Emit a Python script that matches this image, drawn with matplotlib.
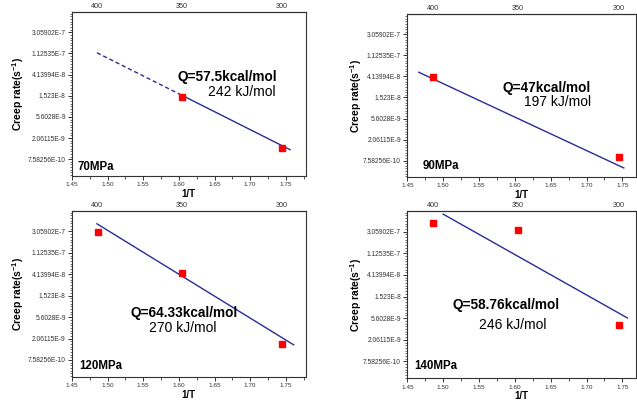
import numpy as np
import matplotlib.pyplot as plt
from matplotlib.ticker import FixedLocator, NullFormatter

plt.rcParams['font.family'] = ['Liberation Sans', 'DejaVu Sans']
plt.rcParams['mathtext.default'] = 'regular'

# y ticks (natural log scale, e^-15 ... e^-21)
ytick_vals = [3.05902e-7, 1.12535e-7, 4.13994e-8, 1.523e-8, 5.6028e-9, 2.06115e-9, 7.58256e-10]
ytick_labels = ['3.05902E-7', '1.12535E-7', '4.13994E-8', '1.523E-8',
                '5.6028E-9', '2.06115E-9', '7.58256E-10']
xtick_vals = [1.45, 1.50, 1.55, 1.60, 1.65, 1.70, 1.75]
top_temps = [400, 350, 300]  # deg C

# measured points (1/T in 1e-3 K^-1, creep rate in s^-1)
x70 = [1.605, 1.745]
y70 = [1.41e-8, 1.30e-9]
x90 = [1.486, 1.745]
y90 = [4.06e-8, 8.81e-10]
x120 = [1.486, 1.605, 1.745]
y120 = [3.00e-7, 4.44e-8, 1.605e-9]
x140 = [1.486, 1.605, 1.745]
y140 = [4.52e-7, 3.35e-7, 4.15e-9]

# fitted lines
fx70 = [1.485, 1.61, 1.756]
fy70 = [1.159e-7, 1.41e-8, 1.189e-9]
fx90 = [1.466, 1.752]
fy90 = [5.06e-8, 5.34e-10]
fx120 = [1.485, 1.761]
fy120 = [4.38e-7, 1.542e-9]
fx140 = [1.50, 1.757]
fy140 = [6.88e-7, 5.66e-9]

stress_labels = ['70MPa', '90MPa', '120MPa', '140MPa']
q_kcal = ['Q=57.5kcal/mol', 'Q=47kcal/mol', 'Q=64.33kcal/mol', 'Q=58.76kcal/mol']
q_kj = ['242 kJ/mol', '197 kJ/mol', '270 kJ/mol', '246 kJ/mol']

W, H = 637, 401
fig = plt.figure(figsize=(W / 100, H / 100), dpi=100)

# panel boxes in pixels: left, top, right, bottom
boxes = [(72, 11.7, 305.7, 175.7), (407.3, 14, 636, 177),
         (72, 210.7, 305.7, 376.7), (407.3, 210.7, 636, 378.3)]
xmax = [1.778, 1.769, 1.778, 1.769]
ylab_x = [26, 364, 26, 364]
q_pos = [(177, 77), (502.7, 87.7), (130.7, 313.3), (452.7, 305.3)]
kj_pos = [(208, 92), (524, 101.7), (149.3, 328.3), (479, 324.7)]
mpa_pos = [(78, 167), (423, 165.7), (79, 366.3), (414, 365.7)]

pts = [(x70, y70), (x90, y90), (x120, y120), (x140, y140)]
fits = [(fx70, fy70), (fx90, fy90), (fx120, fy120), (fx140, fy140)]

line_c = '#2B2B96'


def inv2t(x):
    x = np.asarray(x, dtype=float)
    with np.errstate(divide='ignore'):
        return 1000.0 / x - 273.15


def t2inv(t):
    t = np.asarray(t, dtype=float)
    with np.errstate(divide='ignore'):
        return 1000.0 / (t + 273.15)


for i, (l, t, r, b) in enumerate(boxes):
    ax = fig.add_axes([l / W, 1 - b / H, (r - l) / W, (b - t) / H])
    ax.set_yscale('log', base=np.e)
    ax.set_xlim(1.45, xmax[i])
    ax.set_ylim(np.exp(-21.78), np.exp(-14.03))

    fx, fy = fits[i]
    if i == 0:
        # extrapolated part dashed
        ax.plot(fx[:2], fy[:2], color=line_c, lw=1.0, ls=(0, (3, 2)))
        ax.plot(fx[1:], fy[1:], color=line_c, lw=1.0)
    else:
        ax.plot(fx, fy, color=line_c, lw=1.0)
    px, py = pts[i]
    ax.plot(px, py, 's', color='#FF0000', ms=4, mec='#FF0000', ls='none')

    ax.yaxis.set_major_locator(FixedLocator(ytick_vals))
    ax.set_yticklabels(ytick_labels)
    ax.yaxis.set_minor_locator(FixedLocator(np.exp(np.arange(-22, -13.9, 0.125))))
    ax.yaxis.set_minor_formatter(NullFormatter())
    ax.set_xticks(xtick_vals)
    ax.set_xticklabels(['%.2f' % v for v in xtick_vals])
    ax.xaxis.set_minor_locator(FixedLocator(np.arange(1.475, 1.78, 0.05)))

    ax.tick_params(axis='y', which='major', labelsize=4.8, length=3, width=0.7,
                   pad=1.5, colors='#333333')
    ax.tick_params(axis='y', which='minor', length=1.8, width=0.5, color='#333333')
    ax.tick_params(axis='x', which='major', labelsize=4.6, length=3, width=0.7,
                   pad=1.5, colors='#333333')
    ax.tick_params(axis='x', which='minor', length=2, width=0.6, color='#333333')
    for s in ax.spines.values():
        s.set_linewidth(0.8)
        s.set_color('#333333')

    sec = ax.secondary_xaxis('top', functions=(inv2t, t2inv))
    sec.set_xticks(top_temps)
    sec.set_xticklabels([str(v) for v in top_temps])
    sec.tick_params(length=0, labelsize=5.2, pad=1.5, colors='#333333')
    sec.xaxis.set_minor_locator(FixedLocator([]))

    ax.set_ylabel('Creep rate(s$^{-1}$)', fontsize=7.5, fontweight='bold')
    ax.yaxis.set_label_coords((ylab_x[i] - l) / (r - l), 0.5)
    ax.set_xlabel('1/T', fontsize=7, fontweight='bold')
    ax.xaxis.set_label_coords(0.5, -13 / (b - t))

    qx, qy = q_pos[i]
    fig.text(qx / W, 1 - qy / H, q_kcal[i], fontsize=9.8, fontweight='bold', va='center')
    kx, ky = kj_pos[i]
    fig.text(kx / W, 1 - ky / H, q_kj[i], fontsize=10, va='center')
    mx, my = mpa_pos[i]
    fig.text(mx / W, 1 - my / H, stress_labels[i], fontsize=8.3, fontweight='bold', va='center')

fig.savefig('out.png', dpi=100)
